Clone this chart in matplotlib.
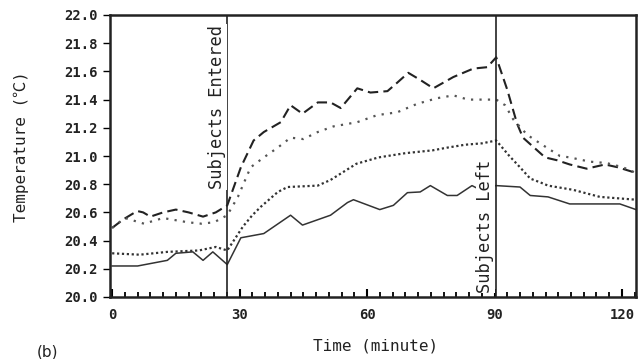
import matplotlib
matplotlib.use("Agg")
import matplotlib.pyplot as plt
from matplotlib.ticker import MultipleLocator
import numpy as np

# ---- data ----
t_solid = [0, 6, 13, 15, 19, 21.4, 23.7, 27.1, 30.3, 35.7, 42, 44.8, 51.4, 55.4, 56.8,
           63, 66.2, 69.5, 72.5, 74.9, 78.9, 81.2, 84.7, 86, 90.4, 96, 98.4, 102.6,
           107.7, 119.5, 123.3]
v_solid = [20.22, 20.22, 20.26, 20.31, 20.32, 20.26, 20.32, 20.23, 20.42, 20.45, 20.58,
           20.51, 20.58, 20.67, 20.69, 20.62, 20.65, 20.74, 20.745, 20.79, 20.72, 20.72,
           20.79, 20.77, 20.79, 20.78, 20.72, 20.71, 20.66, 20.66, 20.62]

t_dense = [0, 6.5, 13, 20.4, 24.4, 27.1, 30.8, 33, 35, 39, 41.3, 48.4, 51.4, 57.5,
           62.7, 69, 75.4, 79, 83.1, 87.1, 90.4, 93.5, 96, 98.4, 101, 102.6, 108.5,
           114.8, 123.3]
v_dense = [20.31, 20.30, 20.32, 20.33, 20.355, 20.33, 20.50, 20.58, 20.64, 20.745, 20.78,
           20.79, 20.83, 20.945, 20.99, 21.02, 21.04, 21.06, 21.08, 21.09, 21.11, 21.0,
           20.92, 20.84, 20.81, 20.79, 20.76, 20.71, 20.69]

t_dashed = [0, 2.6, 5.9, 7.3, 9, 12, 15, 18, 21.4, 24.4, 27.1, 30.3, 33.3, 35.7, 39.7,
            42, 44.8, 48.4, 51.4, 53.8, 57.7, 60.8, 64.8, 67.1, 69.7, 72.5, 75.6, 80.3,
            85, 88.3, 90.4, 93, 95.3, 96.7, 101.9, 104.7, 107.7, 111.7, 116, 119, 123.3]
v_dashed = [20.49, 20.55, 20.61, 20.60, 20.57, 20.60, 20.62, 20.60, 20.57, 20.60, 20.65,
            20.92, 21.11, 21.17, 21.24, 21.36, 21.30, 21.38, 21.38, 21.34, 21.48, 21.45,
            21.46, 21.52, 21.59, 21.54, 21.48, 21.56, 21.62, 21.63, 21.70, 21.47, 21.23,
            21.13, 20.99, 20.97, 20.94, 20.91, 20.94, 20.92, 20.88]

t_loose = [0, 3, 7.5, 12, 17.8, 21, 24, 27.1, 29.6, 32.6, 35.7, 39, 42, 45, 48.4, 52.1,
           57.7, 62.4, 67.1, 71.8, 76.5, 80.3, 83.8, 88.3, 90.4, 92.5, 94.4, 97.7, 100.7,
           105.4, 107.7, 112.4, 116.4, 120.2, 123.3]
v_loose = [20.49, 20.56, 20.52, 20.56, 20.53, 20.52, 20.53, 20.58, 20.71, 20.92, 20.99,
           21.06, 21.13, 21.12, 21.17, 21.21, 21.24, 21.29, 21.31, 21.37, 21.41, 21.43,
           21.40, 21.40, 21.40, 21.36, 21.26, 21.15, 21.09, 21.0, 20.99, 20.96, 20.95,
           20.92, 20.88]

x_major = [0, 30, 60, 90, 120]
x_labels = ["0", "30", "60", "90", "120"]
y_ticks = [20.0, 20.2, 20.4, 20.6, 20.8, 21.0, 21.2, 21.4, 21.6, 21.8, 22.0]
y_labels = ["20.0", "20.2", "20.4", "20.6", "20.8", "21.0", "21.2", "21.4", "21.6", "21.8", "22.0"]
t_enter = 27.1
t_left = 90.35

MONO = ["DejaVu Sans Mono", "Noto Sans CJK JP"]

# ---- figure ----
fig = plt.figure(figsize=(6.4, 3.59), dpi=100)
ax = fig.add_axes([110/640, 1-297/359, 526/640, 282/359])

ax.plot(t_solid, v_solid, color="#333333", lw=1.1, ls="-")
ax.plot(t_dense, v_dense, color="#333333", lw=1.6, ls=(0, (1, 1.2)))
ax.plot(t_dashed, v_dashed, color="#222222", lw=1.5, ls=(0, (5, 2.5)))
ax.plot(t_loose, v_loose, color="#555555", lw=1.6, ls=(0, (1, 2.8)))

ax.axvline(t_enter, color="#222222", lw=1.2)
ax.axvline(t_left, color="#222222", lw=1.2)

box = dict(facecolor="white", edgecolor="none", pad=0.5)
ax.text(t_enter - 0.3, 21.93, "Subjects Entered", rotation=90, fontsize=12.3,
        family=MONO, color="#222222", ha="right", va="top", bbox=box)
ax.text(t_left - 0.4, 20.03, "Subjects Left", rotation=90, fontsize=12.3,
        family=MONO, color="#222222", ha="right", va="bottom", bbox=box)

ax.set_xlim(-0.5, 123.3)
ax.set_ylim(20.0, 22.0)
ax.set_xticks(x_major)
ax.set_xticklabels(x_labels)
ax.xaxis.set_minor_locator(MultipleLocator(3))
ax.set_yticks(y_ticks)
ax.set_yticklabels(y_labels)

for s in ax.spines.values():
    s.set_linewidth(1.8)
    s.set_color("#222222")

ax.tick_params(axis="x", which="major", direction="in", length=6, width=1.5, pad=8)
ax.tick_params(axis="x", which="minor", direction="in", length=3.5, width=1.3)
ax.tick_params(axis="y", which="major", direction="out", length=5, width=1.0, pad=4)
for lab in ax.get_xticklabels() + ax.get_yticklabels():
    lab.set_family(MONO)
    lab.set_fontweight("bold")
    lab.set_fontsize(10)
    lab.set_color("#222222")

fig.text(376/640, 1-346/359, "Time (minute)", ha="center", va="center",
         family=MONO, fontsize=11.5, color="#222222")
fig.text(21/640, 1-147/359, "Temperature (\u2103)", ha="center", va="center", rotation=90,
         family=MONO, fontsize=11.5, color="#222222")
fig.text(47/640, 1-352/359, "(b)", ha="center", va="center",
         family="DejaVu Sans", fontsize=11, color="#222222")

fig.savefig("out.png", dpi=100)
